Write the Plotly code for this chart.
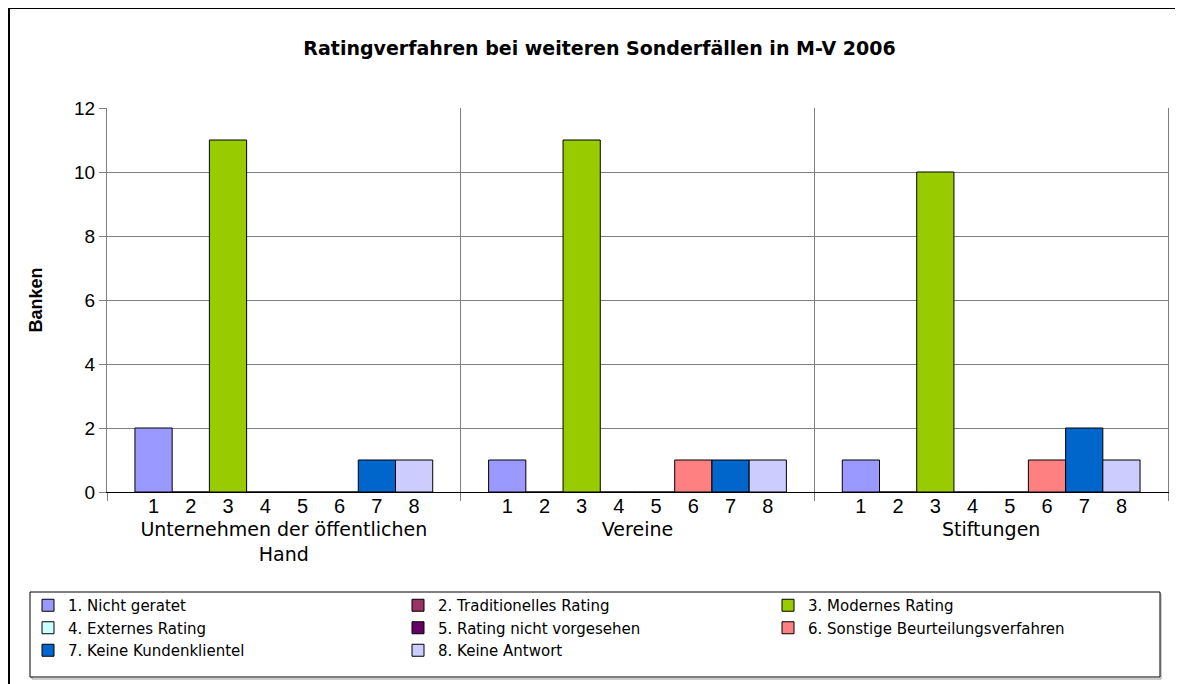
import plotly.graph_objects as go

groups = ["Unternehmen der öffentlichen<br>Hand", "Vereine", "Stiftungen"]
series_ids = ["1", "2", "3", "4", "5", "6", "7", "8"]
series_names = [
    "1. Nicht geratet",
    "2. Traditionelles Rating",
    "3. Modernes Rating",
    "4. Externes Rating",
    "5. Rating nicht vorgesehen",
    "6. Sonstige Beurteilungsverfahren",
    "7. Keine Kundenklientel",
    "8. Keine Antwort",
]
colors = ["#9999FF", "#993366", "#99CC00", "#CCFFFF", "#660066", "#FF8080", "#0066CC", "#CCCCFF"]

# values per series across groups [Unternehmen, Vereine, Stiftungen]
s1 = [2, 1, 1]
s2 = [0, 0, 0]
s3 = [11, 11, 10]
s4 = [0, 0, 0]
s5 = [0, 0, 0]
s6 = [0, 1, 1]
s7 = [1, 1, 2]
s8 = [1, 1, 1]
series_values = [s1, s2, s3, s4, s5, s6, s7, s8]

W, H = 1183, 684
OFF = 8  # page body margin offset
L, R, T, B = 99, 23, 100, 200
PW, PH = W - L - R, H - T - B
BARGAP = 0.158


def px_x(p):
    # page pixel -> paper x
    return (p - OFF - L) / PW


def px_y(p):
    # page pixel -> paper y
    return (H - B - (p - OFF)) / PH


fig = go.Figure()
for name, vals, col in zip(series_names, series_values, colors):
    fig.add_trace(go.Bar(
        x=groups, y=vals, name=name,
        marker=dict(color=col, line=dict(color="black", width=1)),
        hoverinfo="y",
    ))

# positions of per-series number labels under each bar (derived from group layout)
n = len(series_ids)
slot = (1 - BARGAP) / n
tickvals, ticktext = [], []
for gi in range(len(groups)):
    for si, sid in enumerate(series_ids):
        tickvals.append(gi - (1 - BARGAP) / 2 + (si + 0.5) * slot)
        ticktext.append(sid)

# invisible helper trace for the numbered axis
fig.add_trace(go.Scatter(x=[tickvals[0]], y=[0], xaxis="x2", mode="markers",
                         marker=dict(opacity=0), showlegend=False, hoverinfo="skip"))

font_family = "Liberation Sans, Arial, sans-serif"
wide_family = "DejaVu Sans, Liberation Sans, sans-serif"

fig.update_layout(
    width=W, height=H,
    margin=dict(l=L, r=R, t=T, b=B, autoexpand=False),
    paper_bgcolor="white", plot_bgcolor="white",
    barmode="group", bargap=BARGAP, bargroupgap=0,
    font=dict(family=font_family, color="black"),
    title=dict(
        text="<b>Ratingverfahren bei weiteren Sonderfällen in M-V 2006</b>",
        x=0.5, xref="container", xanchor="center",
        y=1 - (48 - OFF) / H, yref="container", yanchor="middle",
        font=dict(size=19, family=wide_family, color="black"),
    ),
    xaxis=dict(
        type="category", tickson="boundaries", ticks="outside", ticklen=8,
        tickcolor="#7f7f7f", showgrid=True, gridcolor="#7f7f7f", gridwidth=1,
        showline=True, linecolor="black", linewidth=1,
        tickfont=dict(size=19, family=wide_family),
        ticklabelstandoff=20,
        range=[-0.5, 2.5],
    ),
    xaxis2=dict(
        overlaying="x", anchor="y", side="bottom", range=[-0.5, 2.5],
        tickmode="array", tickvals=tickvals, ticktext=ticktext,
        ticks="", showgrid=False, showline=False, zeroline=False,
        tickfont=dict(size=20, family=font_family),
    ),
    yaxis=dict(
        range=[0, 12], dtick=2, ticks="outside", ticklen=7, tickcolor="#7f7f7f",
        showgrid=True, gridcolor="#7f7f7f", gridwidth=1,
        showline=True, linecolor="#7f7f7f", linewidth=1, mirror=True,
        zeroline=False,
        tickfont=dict(size=19, family=font_family),
        title=dict(text="<b>Banken</b>", font=dict(size=18, family=font_family), standoff=26),
    ),
    legend=dict(
        orientation="h", x=px_x(28), xanchor="left", y=px_y(589), yanchor="top",
        entrywidthmode="pixels", entrywidth=325,
        font=dict(size=15, family=wide_family), bgcolor="rgba(0,0,0,0)",
        borderwidth=0, itemwidth=30, traceorder="normal",
    ),
    shapes=[
        # outer chart frame
        dict(type="rect", xref="paper", yref="paper",
             x0=px_x(9), x1=px_x(1220), y0=px_y(740), y1=px_y(8),
             line=dict(color="black", width=2), fillcolor="rgba(0,0,0,0)", layer="above"),
        # legend box shadow
        dict(type="rect", xref="paper", yref="paper",
             x0=px_x(32), x1=px_x(1161), y0=px_y(679), y1=px_y(594),
             line=dict(color="#9a9a9a", width=1), fillcolor="rgba(0,0,0,0)", layer="below"),
        # legend box
        dict(type="rect", xref="paper", yref="paper",
             x0=px_x(30), x1=px_x(1160), y0=px_y(677), y1=px_y(592),
             line=dict(color="black", width=1), fillcolor="white", layer="below"),
    ],
    showlegend=True,
)

fig.write_html("out.html")
